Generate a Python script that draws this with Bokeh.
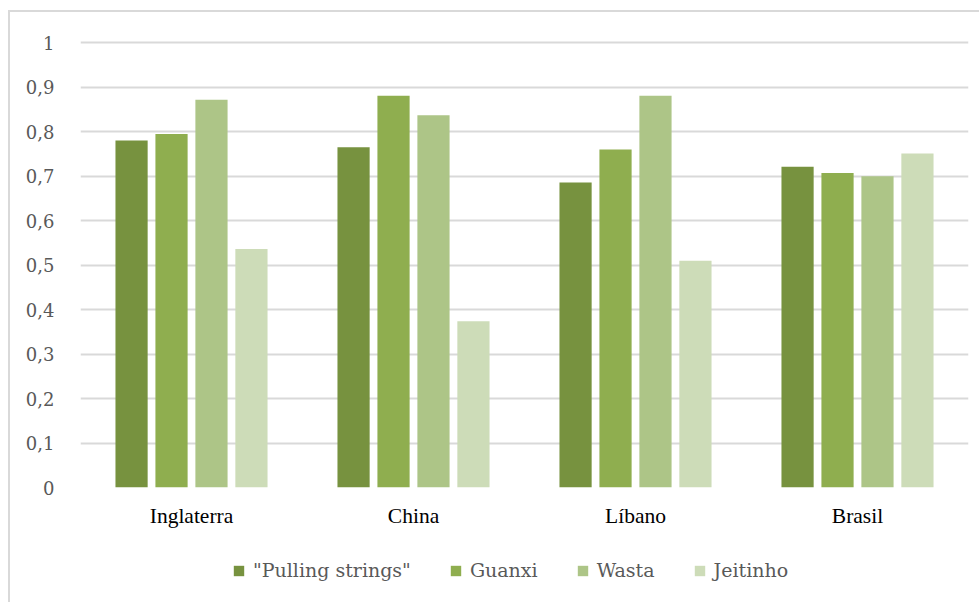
from bokeh.plotting import figure
from bokeh.models import Legend, LegendItem, FixedTicker, CustomJSTickFormatter, Range1d, FactorRange
from bokeh.transform import dodge
from bokeh.embed import file_html
from bokeh.resources import INLINE
from bokeh.layouts import column

categories = ["Inglaterra", "China", "Líbano", "Brasil"]
series = ['"Pulling strings"', "Guanxi", "Wasta", "Jeitinho"]
pulling = [0.78, 0.765, 0.686, 0.721]
guanxi = [0.795, 0.881, 0.760, 0.707]
wasta = [0.872, 0.837, 0.881, 0.700]
jeitinho = [0.536, 0.374, 0.510, 0.751]
y_ticks = [0, 0.1, 0.2, 0.3, 0.4, 0.5, 0.6, 0.7, 0.8, 0.9, 1]

colors = ["#77923f", "#8fae4f", "#adc587", "#cddcb8"]
values = [pulling, guanxi, wasta, jeitinho]
offsets = [-0.27, -0.09, 0.09, 0.27]

CAT_FONT = "Liberation Serif"
FONT = "DejaVu Serif"

p = figure(width=971, height=540, x_range=FactorRange(*categories), y_range=Range1d(0, 1.005),
           output_backend="svg", toolbar_location=None,
           min_border_left=70, min_border_top=28, min_border_right=13, min_border_bottom=65)
p.outline_line_color = None
p.x_range.range_padding = 0
p.x_range.group_padding = 0

renderers = []
for name, vals, col, off in zip(series, values, colors, offsets):
    src = {"cat": categories, "val": vals}
    r = p.vbar(x=dodge("cat", off, range=p.x_range), top="val", width=0.145, source=src,
               fill_color=col, line_color=None)
    renderers.append(r)

p.xgrid.grid_line_color = None
p.ygrid.grid_line_color = "#d9d9d9"
p.ygrid.grid_line_width = 2
p.yaxis.ticker = FixedTicker(ticks=y_ticks)
p.yaxis.formatter = CustomJSTickFormatter(code="return (Math.round(tick*10)/10).toString().replace('.', ',');")
for ax in (p.xaxis[0], p.yaxis[0]):
    ax.axis_line_color = None
    ax.major_tick_line_color = None
    ax.minor_tick_line_color = None
p.yaxis.major_label_text_font = FONT
p.yaxis.major_label_text_font_size = "18px"
p.yaxis.major_label_text_color = "#595959"
p.yaxis.major_label_standoff = 20
p.xaxis.major_label_text_font = CAT_FONT
p.xaxis.major_label_text_font_size = "21.5px"
p.xaxis.major_label_text_color = "#000000"
p.xaxis.major_label_standoff = 10

# legend-only strip below the chart (proxy bars sit outside the visible range)
lg = figure(width=971, height=50, output_backend="svg", toolbar_location=None,
            x_range=Range1d(0, 1), y_range=Range1d(0, 1),
            min_border=0, min_border_left=0, min_border_right=0, min_border_top=0, min_border_bottom=0)
lg.axis.visible = False
lg.grid.grid_line_color = None
lg.outline_line_color = None
items = []
for name, col in zip(series, colors):
    r = lg.vbar(x=[-1], top=[0], width=0.1, fill_color=col, line_color=None)
    items.append(LegendItem(label=name, renderers=[r]))
legend = Legend(items=items, orientation="horizontal", location=(152, 21),
                label_text_font=FONT, label_text_font_size="19px", label_text_color="#595959",
                glyph_width=13, glyph_height=13, spacing=38, label_standoff=8,
                border_line_color=None, background_fill_alpha=0, margin=0, padding=0)
lg.add_layout(legend, "center")

lay = column(p, lg, spacing=0,
             styles={"margin-left": "8px", "margin-top": "10px",
                     "border-left": "2px solid #d9d9d9", "border-top": "2px solid #d9d9d9"})
open("out.html", "w").write(file_html(lay, INLINE))
